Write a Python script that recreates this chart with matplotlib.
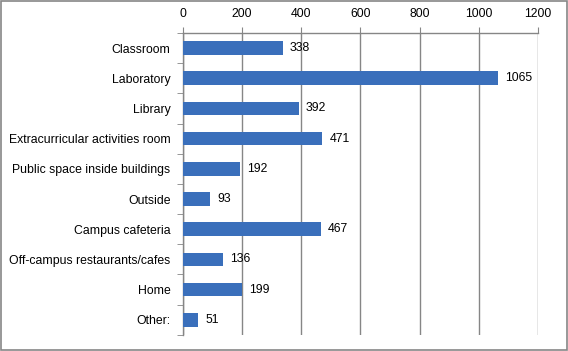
import matplotlib
matplotlib.use("Agg")
import matplotlib.pyplot as plt
from matplotlib.patches import Rectangle

categories = ["Classroom", "Laboratory", "Library", "Extracurricular activities room",
              "Public space inside buildings", "Outside", "Campus cafeteria",
              "Off-campus restaurants/cafes", "Home", "Other:"]
values = [338, 1065, 392, 471, 192, 93, 467, 136, 199, 51]
xticks = [0, 200, 400, 600, 800, 1000, 1200]

plt.rcParams['font.family'] = ['Liberation Sans', 'DejaVu Sans']
fig = plt.figure(figsize=(5.68, 3.51), dpi=100)
fig.patches.append(Rectangle((0.001, 0.002), 0.997, 0.995, transform=fig.transFigure,
                             fill=False, edgecolor='#868686', linewidth=1.2))
ax = fig.add_axes([0.322, 0.046, 0.625, 0.86])

y = list(range(len(categories)))
ax.barh(y, values, height=0.45, color='#3A6FBB', zorder=3)
for yi, v in zip(y, values):
    ax.text(v + 24, yi, str(v), va='center', ha='left', fontsize=8.8, color='#000000', zorder=4)

ax.set_xlim(0, 1200)
ax.set_ylim(len(categories) - 0.5, -0.5)
ax.xaxis.tick_top()
ax.set_xticks(xticks)
ax.set_xticklabels([str(t) for t in xticks], fontsize=8.8)
ax.set_yticks(y)
ax.set_yticklabels(categories, fontsize=8.8)
ax.set_yticks([i - 0.5 for i in range(len(categories) + 1)], minor=True)
ax.tick_params(axis='y', which='major', length=0, pad=9)
ax.tick_params(axis='y', which='minor', length=4, color='#868686', direction='out')
ax.tick_params(axis='x', which='major', length=4, color='#868686', direction='out', pad=5)
ax.grid(axis='x', color='#868686', linewidth=1, zorder=0)
for s in ['right', 'bottom']:
    ax.spines[s].set_visible(False)
for s in ['left', 'top']:
    ax.spines[s].set_color('#868686')
    ax.spines[s].set_linewidth(1)

fig.savefig('out.png', dpi=100)
